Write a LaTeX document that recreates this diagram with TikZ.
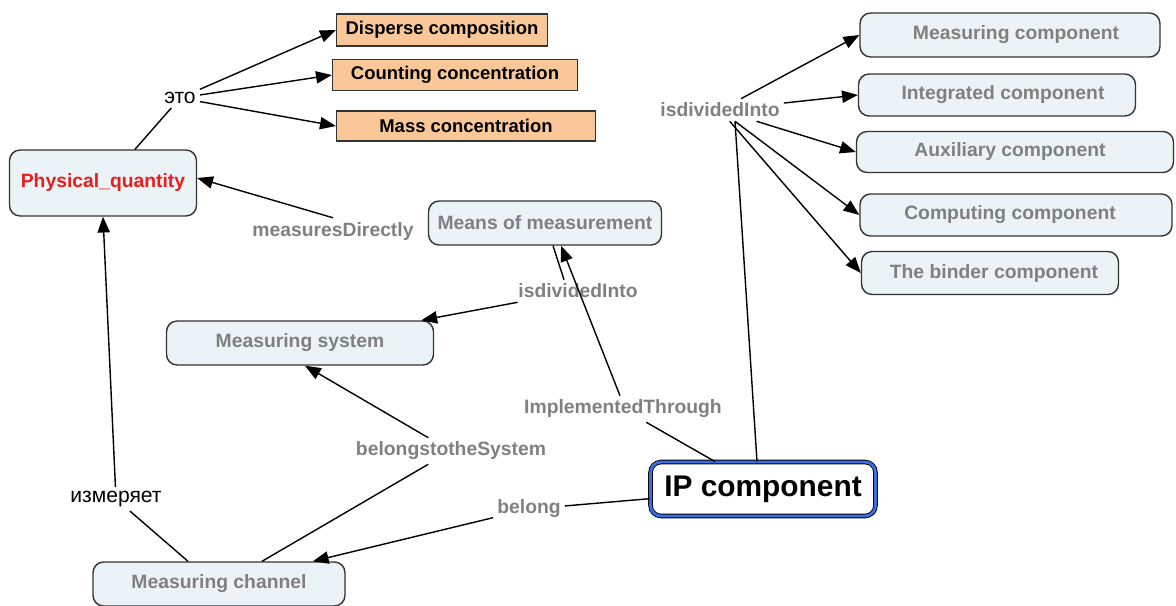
\documentclass[tikz,border=0pt]{standalone}
\usepackage{fontspec}
\setmainfont{Liberation Sans}
\usepackage{tikz}
\usetikzlibrary{
  	arrows.meta,
  	positioning,
  	calc
  }
\definecolor{boxfill}{RGB}{235,243,246}
\definecolor{peach}{RGB}{250,200,152}
\definecolor{lblgray}{RGB}{128,128,128}
\definecolor{ipblue}{RGB}{58,110,230}
\definecolor{pqred}{RGB}{232,30,30}
\tikzstyle{concept}=[draw=black!80,fill=boxfill,rounded corners=6pt,line width=0.8pt,inner sep=0pt,font=\fontsize{11}{13}\selectfont\bfseries,text=lblgray]
\tikzstyle{quantity}=[draw=black!80,fill=peach,line width=0.8pt,inner sep=0pt,font=\fontsize{10.5}{12}\selectfont\bfseries,text=black]
\tikzstyle{link}=[inner sep=2pt,font=\fontsize{11}{13}\selectfont\bfseries,text=lblgray]
\tikzstyle{rulink}=[inner sep=2pt,font=\fontsize{12}{14}\selectfont,text=black]
\tikzstyle{arr}=[-{Triangle[length=9pt,width=7pt]}]

\begin{document}
\begin{tikzpicture}[x=0.02cm,y=-0.02cm,line width=0.8pt]
	\useasboundingbox (0,0) rectangle (1176,605);
%
	\node[concept,minimum width=3.74cm,minimum height=1.32cm,text=pqred] at (103,183) (pq) {Physical\_quantity};
	\node[quantity,minimum width=4.22cm,minimum height=0.64cm] at (442,30) (disp) {Disperse composition};
	\node[quantity,minimum width=4.9cm,minimum height=0.62cm] at (455,75) (count) {Counting concentration};
	\node[quantity,minimum width=5.18cm,minimum height=0.6cm] at (466,126) (mass) {Mass concentration};
	\node[concept,minimum width=4.66cm,minimum height=0.88cm] at (545,223) (means) {Means of measurement};
	\node[concept,minimum width=5.34cm,minimum height=0.88cm] at (300,343) (msys) {Measuring system};
	\node[concept,minimum width=5.04cm,minimum height=0.88cm] at (219,584) (mchan) {Measuring channel};
	\node[draw=black,double=ipblue,double distance=1.6pt,line width=0.5pt,fill=white,rounded corners=6pt,
		minimum width=4.5cm,minimum height=1.08cm,font=\fontsize{17}{20}\selectfont\bfseries] at (763,489) (ip) {IP component};
	% last value: text pushed off centre, as in the source
	\foreach \nm/\cx/\cy/\bw/\bh/\txt/\dx in {
		mcomp/1010/35/6.0/0.88/Measuring component/0.24,
		icomp/997/95/5.54/0.84/Integrated component/0.24,
		acomp/1015/152/6.34/0.82/Auxiliary component/-0.2,
		ccomp/1016/215/6.24/0.84/Computing component/-0.24,
		bcomp/990/273/5.14/0.86/The binder component/0.16} {
		\node[concept,minimum width=\bw cm,minimum height=\bh cm] at (\cx,\cy) (\nm) {\makebox[0pt]{\hspace{\dx cm}\txt}};
	}
%
	\node[rulink] at (180,98) (eto) {это};
	\node[link] at (333,231) (mdir) {measuresDirectly};
	\node[link] at (578,291) (divmid) {isdividedInto};
	\node[link] at (623,409) (impl) {ImplementedThrough};
	\node[link] at (451,451) (bsys) {belongstotheSystem};
	\node[link] at (529,509) (belong) {belong};
	\node[rulink] at (116,499) (izm) {измеряет};
	\node[link] at (720,110) (divr) {isdividedInto};
%
	\draw (pq.north -| 135,0) -- (eto);
	\draw[arr] (eto) edge (disp.west) edge (count.west) (eto) -- (mass.west);
	\draw[arr] (mdir.north) -- ($(pq.east)+(0,-5)$);
	\draw ($(means.south)+(8,0)$) -- ($(divmid.north)+(-14,0)$);
	\draw[arr] (divmid) -- (msys);
	\draw (ip) -- (impl);
	\draw[arr] ($(impl.north)+(-3,0)$) -- ($(means.south)+(16,0)$);
	\draw ($(mchan.north)+(43,0)$) -- (bsys);
	\draw[arr] (bsys) -- ($(msys.south)+(5,0)$);
	\draw (ip) -- (belong);
	\draw[arr] (belong) -- (mchan);
	\draw ($(mchan.north)+(-31,0)$) -- (izm);
	\draw[arr] (izm) -- (pq.south);
	\draw ($(ip.north)+(-6,0)$) -- ($(divr.south)+(15,0)$);
	\foreach \nm in {mcomp,icomp,acomp,ccomp,bcomp} {
		\draw[arr] (divr) -- (\nm.west);
	}
\end{tikzpicture}
\end{document}
